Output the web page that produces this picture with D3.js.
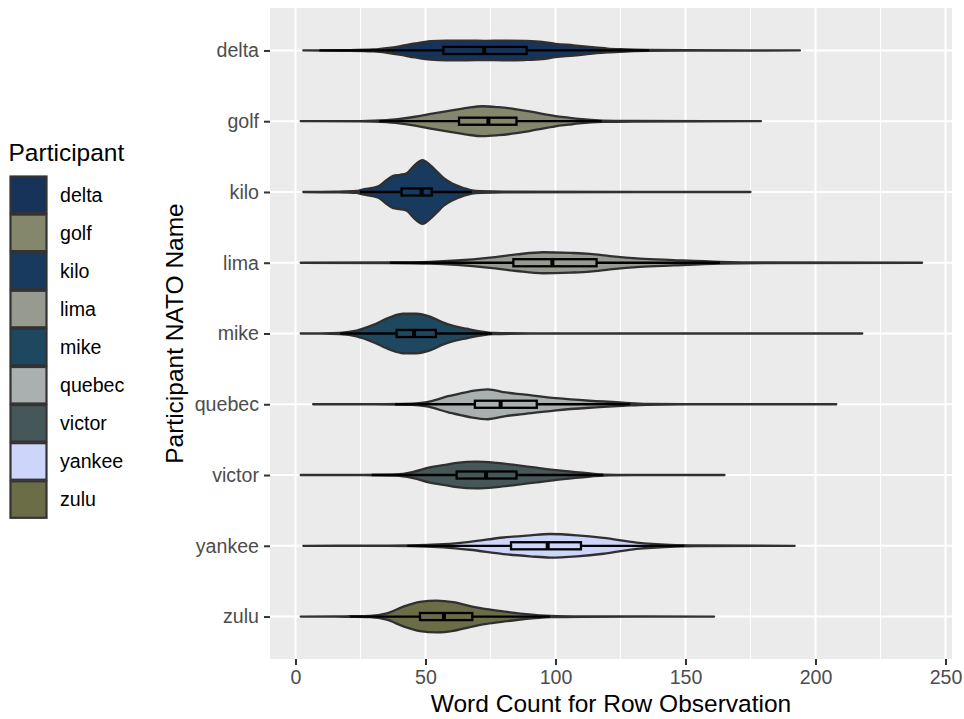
<!DOCTYPE html>
<html>
<head>
<meta charset="utf-8">
<script src="https://cdn.jsdelivr.net/npm/d3@7"></script>
<style>
  body { margin: 0; background: #ffffff; }
  svg text { font-family: "Liberation Sans", Arial, Helvetica, sans-serif; }
</style>
</head>
<body>
<div id="chart"></div>
<script>
// --- DATA ---

const participants = ["delta", "golf", "kilo", "lima", "mike", "quebec", "victor", "yankee", "zulu"];

const fillColors = ["#17335a", "#85876d", "#173a5e", "#979a8f", "#1e4760", "#aab0af", "#465759", "#cdd5fb", "#6b6d47"];

const xTicks = [0, 50, 100, 150, 200, 250];
const xMinorTicks = [25, 75, 125, 175, 225];

// violin profiles: [word count, relative density]
const violinDelta  = [[3,0],[20,0.01],[30,0.03],[36,0.08],[40,0.13],[46,0.22],[52,0.29],[58,0.31],[66,0.31],[73,0.3],[80,0.31],[88,0.3],[95,0.27],[100,0.21],[107,0.16],[113,0.11],[120,0.06],[125,0.04],[135,0.015],[150,0.006],[194,0]];
const violinGolf   = [[2,0],[25,0.006],[35,0.03],[40,0.07],[46,0.14],[52,0.23],[60,0.34],[66,0.42],[72,0.47],[78,0.44],[85,0.375],[90,0.31],[95,0.23],[100,0.16],[105,0.11],[109,0.07],[118,0.02],[130,0.01],[179,0]];
const violinKilo   = [[3,0],[15,0.01],[23.5,0.03],[25.4,0.07],[31.9,0.18],[35.1,0.38],[37.6,0.51],[40.2,0.54],[42.8,0.59],[45.3,0.8],[48.9,1],[51.7,0.85],[54.3,0.65],[56.9,0.44],[60.7,0.25],[64.6,0.125],[67.8,0.05],[72,0.025],[80,0.01],[175,0]];
const violinLima   = [[2,0],[36,0.01],[51.7,0.03],[62,0.07],[74.8,0.16],[85,0.26],[95.3,0.33],[105.6,0.31],[113.3,0.28],[121,0.21],[132.5,0.13],[145.3,0.085],[163.3,0.03],[180,0.01],[241,0]];
const violinMike   = [[2,0],[10,0.003],[17.1,0.02],[23.5,0.09],[29.9,0.27],[36.3,0.51],[41.5,0.62],[46.6,0.62],[51.7,0.53],[56.9,0.34],[60.7,0.24],[65.9,0.15],[71,0.07],[76.1,0.02],[90,0.006],[218,0]];
const violinQuebec = [[6.8,0],[30,0.003],[45,0.02],[50.5,0.07],[59.1,0.26],[66.8,0.4],[74,0.47],[80.9,0.37],[87.5,0.31],[100.3,0.19],[113,0.11],[126,0.05],[135,0.015],[150,0.006],[208,0]];
const violinVictor = [[2,0],[25,0.006],[38.9,0.02],[45.3,0.1],[51.7,0.24],[56.9,0.31],[62,0.38],[69.7,0.42],[77.4,0.38],[85,0.31],[92.7,0.23],[103,0.13],[113.3,0.05],[118.5,0.015],[130,0.006],[165,0]];
const violinYankee = [[3,0],[30,0.003],[44,0.01],[56.9,0.05],[67.1,0.125],[80,0.26],[90.2,0.33],[97.9,0.37],[108.2,0.33],[118.4,0.25],[131.2,0.1],[144,0.03],[155,0.012],[192,0]];
const violinZulu   = [[2,0],[15,0.003],[21,0.01],[28.7,0.02],[35.1,0.1],[41.5,0.31],[47.9,0.46],[54.3,0.5],[60.7,0.45],[67.1,0.33],[73.5,0.23],[79.9,0.16],[87.6,0.085],[97.9,0.02],[110,0.006],[161,0]];

const violins = [violinDelta, violinGolf, violinKilo, violinLima, violinMike, violinQuebec, violinVictor, violinYankee, violinZulu];

// boxplot stats: [lower whisker, q1, median, q3, upper whisker]
const boxStats = [
    [9.2, 56.9, 72.6, 88.9, 136],
    [32.2, 62.9, 74.2, 85, 117.8],
    [24.8, 40.8, 48.5, 52.4, 67.8],
    [36.3, 83.8, 98.8, 115.8, 163.3],
    [17.1, 38.9, 45.6, 54, 75.5],
    [38.3, 69, 78.9, 92.8, 128.7],
    [29.3, 62, 73.3, 85, 118.4],
    [43, 82.9, 97, 109.8, 149.5],
    [21, 47.9, 57.1, 68, 97.9]
];


// --- CHART ---

const size = {width: 964, height: 719};
const margin = {top: 8, right: 12, bottom: 60, left: 270};
const panelW = size.width - margin.left - margin.right;
const panelH = size.height - margin.top - margin.bottom;

const svg = d3.select("#chart").append("svg")
    .attr("width", size.width)
    .attr("height", size.height);

const g = svg.append("g")
    .attr("transform", "translate(" + margin.left + "," + margin.top + ")");

// scales
const xScale = d3.scaleLinear().domain([-9.8, 252.5]).range([0, panelW]);
const yScale = d3.scalePoint().domain(participants).range([0, panelH]).padding(0.6);
const wScale = d3.scaleLinear().domain([0, 1]).range([0, yScale.step() * 0.45]);
const color = d3.scaleOrdinal().domain(participants).range(fillColors);

// panel background + grid
g.append("rect")
    .attr("width", panelW).attr("height", panelH)
    .attr("fill", "#ebebeb");

g.selectAll(".minorGrid").data(xMinorTicks).join("line")
    .attr("class", "minorGrid")
    .attr("x1", d => xScale(d)).attr("x2", d => xScale(d))
    .attr("y1", 0).attr("y2", panelH)
    .attr("stroke", "#ffffff").attr("stroke-width", 1.1);

g.selectAll(".majorGrid").data(xTicks).join("line")
    .attr("class", "majorGrid")
    .attr("x1", d => xScale(d)).attr("x2", d => xScale(d))
    .attr("y1", 0).attr("y2", panelH)
    .attr("stroke", "#ffffff").attr("stroke-width", 2.1);

g.selectAll(".yGrid").data(participants).join("line")
    .attr("class", "yGrid")
    .attr("x1", 0).attr("x2", panelW)
    .attr("y1", d => yScale(d)).attr("y2", d => yScale(d))
    .attr("stroke", "#ffffff").attr("stroke-width", 2.1);

// violins
participants.forEach((name, i) => {
    const cy = yScale(name);
    const area = d3.area()
        .x(d => xScale(d[0]))
        .y0(d => cy - wScale(d[1]))
        .y1(d => cy + wScale(d[1]))
        .curve(d3.curveMonotoneX);

    g.append("path")
        .datum(violins[i])
        .attr("class", "violin")
        .attr("d", area)
        .attr("fill", color(name))
        .attr("stroke", "#303030")
        .attr("stroke-width", 2.3)
        .attr("stroke-linejoin", "round");
});

// boxplots
const boxHalf = yScale.step() * 0.05;
participants.forEach((name, i) => {
    const cy = yScale(name);
    const s = boxStats[i];
    const bg = g.append("g").attr("class", "box");

    bg.append("line")
        .attr("x1", xScale(s[0])).attr("x2", xScale(s[1]))
        .attr("y1", cy).attr("y2", cy)
        .attr("stroke", "#000000").attr("stroke-width", 2.3);
    bg.append("line")
        .attr("x1", xScale(s[3])).attr("x2", xScale(s[4]))
        .attr("y1", cy).attr("y2", cy)
        .attr("stroke", "#000000").attr("stroke-width", 2.3);
    bg.append("rect")
        .attr("x", xScale(s[1])).attr("y", cy - boxHalf)
        .attr("width", xScale(s[3]) - xScale(s[1]))
        .attr("height", boxHalf * 2)
        .attr("fill", color(name))
        .attr("stroke", "#000000").attr("stroke-width", 2.3);
    bg.append("line")
        .attr("x1", xScale(s[2])).attr("x2", xScale(s[2]))
        .attr("y1", cy - boxHalf).attr("y2", cy + boxHalf)
        .attr("stroke", "#000000").attr("stroke-width", 4);
});

// axes
const xAxis = g.append("g")
    .attr("transform", "translate(0," + panelH + ")")
    .call(d3.axisBottom(xScale).tickValues(xTicks).tickSize(6).tickPadding(5));
xAxis.select(".domain").remove();
xAxis.selectAll(".tick line").attr("stroke", "#333333").attr("stroke-width", 2);
xAxis.selectAll(".tick text").attr("fill", "#4d4d4d").style("font-size", "19.6px");

const yAxis = g.append("g")
    .call(d3.axisLeft(yScale).tickSize(6).tickPadding(5));
yAxis.select(".domain").remove();
yAxis.selectAll(".tick line").attr("stroke", "#333333").attr("stroke-width", 2);
yAxis.selectAll(".tick text").attr("fill", "#4d4d4d").style("font-size", "19.6px");

// axis titles
svg.append("text")
    .attr("x", margin.left + panelW / 2)
    .attr("y", 711.5)
    .attr("text-anchor", "middle")
    .style("font-size", "24.5px")
    .attr("fill", "#000000")
    .text("Word Count for Row Observation");

svg.append("text")
    .attr("transform", "translate(182.5," + (margin.top + panelH / 2) + ") rotate(-90)")
    .attr("text-anchor", "middle")
    .style("font-size", "24.5px")
    .attr("fill", "#000000")
    .text("Participant NATO Name");

// legend
const legend = svg.append("g").attr("class", "legend");
legend.append("text")
    .attr("x", 8.5).attr("y", 160.5)
    .style("font-size", "24.5px")
    .text("Participant");

const keyStep = 38.1;
const keys = legend.selectAll(".key").data(participants).join("g")
    .attr("class", "key")
    .attr("transform", (d, i) => "translate(10," + (176 + i * keyStep) + ")");
keys.append("rect")
    .attr("x", 0.5).attr("y", 0.5)
    .attr("width", 36).attr("height", 36.5)
    .attr("fill", d => color(d))
    .attr("stroke", "#333333").attr("stroke-width", 2.2);
keys.append("text")
    .attr("x", 50).attr("y", 18.8)
    .attr("dy", "0.35em")
    .style("font-size", "19.6px")
    .attr("fill", "#000000")
    .text(d => d);
</script>
</body>
</html>
